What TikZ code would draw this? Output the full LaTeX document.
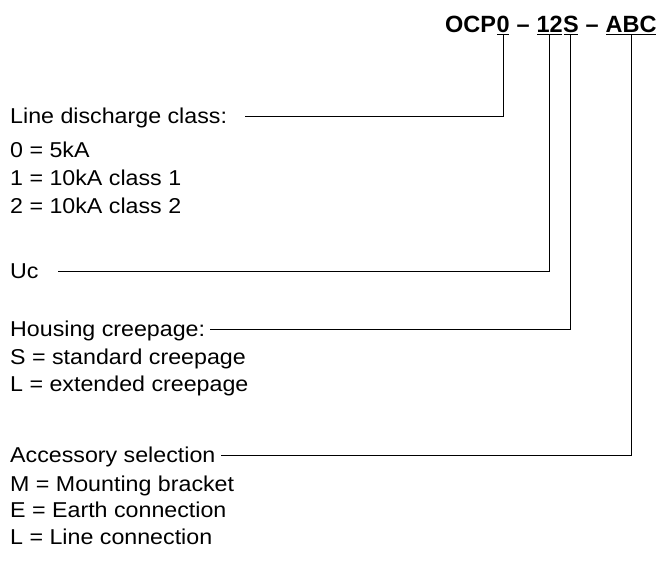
\documentclass[tikz,border=0pt]{standalone}
\usepackage{fontspec}
\setmainfont{Liberation Sans}
\newfontfamily\lblfont[FakeStretch=1.08]{Liberation Sans}
\begin{document}
\begin{tikzpicture}[x=1pt,y=-1pt,
  lbl/.style={anchor=base west, inner sep=0pt, font=\lblfont\fontsize{21.5}{26}\selectfont},
  ttl/.style={anchor=base west, inner sep=0pt, font=\fontsize{23.5}{28}\selectfont\bfseries},
  conn/.style={line width=1.1pt},
]
\useasboundingbox (0,0) rectangle (659,563);
% title
\node[ttl] (t1) at (445,32) {OCP};
\node[ttl] (t2) at (t1.base east) {0};
\node[ttl] (t3) at (t2.base east) {\ –\ \null};
\node[ttl] (t4) at (t3.base east) {12};
\node[ttl] (t5) at (t4.base east) {S};
\node[ttl] (t6) at (t5.base east) {\ –\ \null};
\node[ttl] (t7) at (t6.base east) {ABC};
% labels
\node[lbl] (l1) at (10,123) {Line discharge class:};
\node[lbl] (l2) at (10,157) {0 = 5kA};
\node[lbl] (l3) at (10,185) {1 = 10kA class 1};
\node[lbl] (l4) at (10,213) {2 = 10kA class 2};
\node[lbl] (u1) at (10,278) {Uc};
\node[lbl] (h1) at (10,336) {Housing creepage:};
\node[lbl] (h2) at (10,364) {S = standard creepage};
\node[lbl] (h3) at (10,391) {L = extended creepage};
\node[lbl] (a1) at (10,462) {Accessory selection};
\node[lbl] (a2) at (10,491) {M = Mounting bracket};
\node[lbl] (a3) at (10,517) {E = Earth connection};
\node[lbl] (a4) at (10,544) {L = Line connection};
% underline bars
\foreach \n in {t2,t4,t5,t7}{
  \draw[conn] ([xshift=1pt,yshift=-2.5pt]\n.base west) -- ([xshift=-1pt,yshift=-2.5pt]\n.base east);
}
% connectors
\draw[conn] ([yshift=-2.5pt]t2.base) |- ([xshift=18pt,yshift=3.5pt]l1.mid east);
\draw[conn] ([yshift=-2.5pt]t4.base) |- ([xshift=19pt,yshift=3.5pt]u1.mid east);
\draw[conn] ([yshift=-2.5pt]t5.base) |- ([xshift=5pt,yshift=3.5pt]h1.mid east);
\draw[conn] ([yshift=-2.5pt]t7.base) |- ([xshift=5pt,yshift=3.5pt]a1.mid east);
\end{tikzpicture}
\end{document}
